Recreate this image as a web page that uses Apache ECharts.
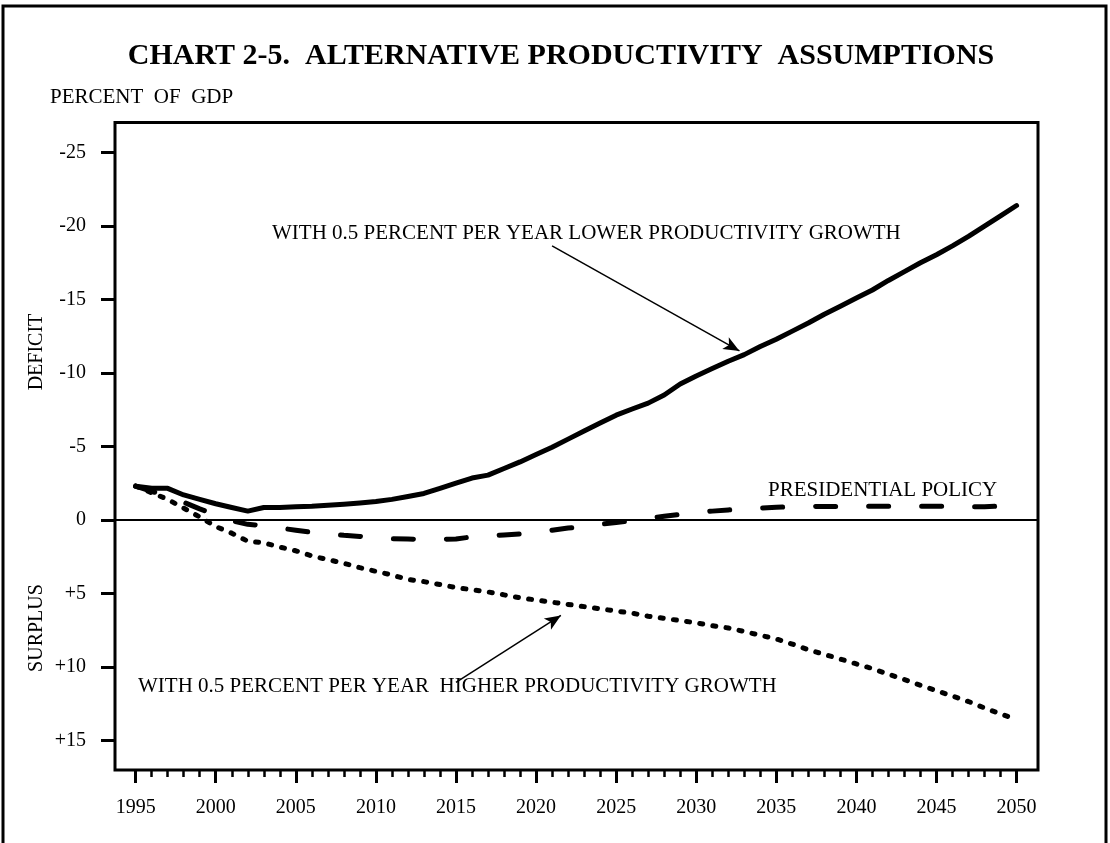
<!DOCTYPE html>
<html>
<head>
<meta charset="utf-8">
<script src="https://cdn.jsdelivr.net/npm/echarts@6/dist/echarts.min.js"></script>
<style>
html,body{margin:0;padding:0;background:#fff;}
#chart{width:1110px;height:843px;}
</style>
</head>
<body>
<div id="chart"></div>
<script>
// ---------- DATA ----------
const years = [1995,1996,1997,1998,1999,2000,2001,2002,2003,2004,2005,2006,2007,2008,2009,2010,
  2011,2012,2013,2014,2015,2016,2017,2018,2019,2020,2021,2022,2023,2024,2025,2026,2027,2028,2029,2030,
  2031,2032,2033,2034,2035,2036,2037,2038,2039,2040,2041,2042,2043,2044,2045,2046,2047,2048,2049,2050];

// Percent of GDP: negative = deficit (upward), positive = surplus (downward)
const lowerProductivity = [-2.3,-2.15,-2.15,-1.7,-1.4,-1.1,-0.85,-0.6,-0.85,-0.85,-0.9,-0.93,-1.0,-1.07,-1.15,-1.25,
  -1.4,-1.6,-1.8,-2.15,-2.5,-2.85,-3.05,-3.5,-3.95,-4.45,-4.95,-5.5,-6.05,-6.6,-7.13,-7.55,-7.95,-8.5,-9.25,-9.8,
  -10.3,-10.8,-11.25,-11.8,-12.3,-12.85,-13.4,-14.0,-14.55,-15.1,-15.65,-16.3,-16.9,-17.5,-18.05,-18.65,-19.3,-20.0,-20.7,-21.4];

const presidentialPolicy = [-2.3,-1.95,-1.6,-1.2,-0.75,-0.35,0.05,0.3,0.38,0.55,0.7,0.85,0.95,1.05,1.12,1.2,
  1.28,1.3,1.32,1.32,1.3,1.15,1.1,1.02,0.95,0.85,0.7,0.55,0.45,0.3,0.18,0.05,-0.1,-0.25,-0.38,-0.5,
  -0.6,-0.68,-0.75,-0.8,-0.86,-0.9,-0.9,-0.92,-0.92,-0.93,-0.93,-0.93,-0.93,-0.93,-0.93,-0.93,-0.9,-0.9,-0.95,-1.05];

const higherProductivity = [-2.3,-1.85,-1.4,-0.8,-0.2,0.45,0.9,1.45,1.55,1.85,2.1,2.45,2.7,2.95,3.25,3.5,
  3.75,4.05,4.2,4.4,4.6,4.75,4.9,5.1,5.3,5.45,5.6,5.75,5.9,6.05,6.2,6.35,6.55,6.7,6.85,7.0,
  7.2,7.35,7.6,7.85,8.1,8.45,8.84,9.15,9.47,9.8,10.12,10.5,10.87,11.25,11.62,11.99,12.36,12.8,13.2,13.6];

const xTickLabels = [1995,2000,2005,2010,2015,2020,2025,2030,2035,2040,2045,2050];
const yTickLabels = [-25,-20,-15,-10,-5,0,5,10,15];

// annotation arrows (in data units: [year, percent])
const arrowLower = [[2021.0, -18.65], [2032.7, -11.5]];
const arrowHigher = [[2015.0, 11.05], [2021.55, 6.5]];

const titleText = 'CHART 2-5.  ALTERNATIVE PRODUCTIVITY  ASSUMPTIONS';
const unitText = 'PERCENT  OF  GDP';
const deficitText = 'DEFICIT';
const surplusText = 'SURPLUS';
const lowerText = 'WITH 0.5 PERCENT PER YEAR LOWER PRODUCTIVITY GROWTH';
const presText = 'PRESIDENTIAL POLICY';
const higherText = 'WITH 0.5 PERCENT PER YEAR  HIGHER PRODUCTIVITY GROWTH';

// ---------- CHART ----------
const FONT = '"Liberation Serif", "Times New Roman", serif';
const pairs = (vals) => years.map((y, i) => [y, vals[i]]);

const chart = echarts.init(document.getElementById('chart'), null, {renderer: 'canvas'});

function txt(text, x, y, size, opts) {
  opts = opts || {};
  return {
    type: 'text', x: x, y: y, rotation: opts.rotation || 0, z: 100,
    style: {
      text: text,
      font: (opts.bold ? 'bold ' : '') + size + 'px ' + FONT,
      fill: '#000',
      textAlign: opts.align || 'left', align: opts.align || 'left',
      textVerticalAlign: 'middle', verticalAlign: 'middle'
    }
  };
}

const xCommon = {
  type: 'value', min: 1993.71, max: 2051.34, position: 'bottom', gridIndex: 0,
  axisLine: {show: false, onZero: false}, splitLine: {show: false}
};

const option = {
  animation: false,
  backgroundColor: '#fff',
  grid: {left: 115, top: 122.5, width: 923, height: 647.5, show: true,
    borderWidth: 3, borderColor: '#000', backgroundColor: 'transparent'},
  xAxis: [
    Object.assign({}, xCommon, {
      axisTick: {show: true, customValues: xTickLabels, length: 13, lineStyle: {color: '#000', width: 3}},
      axisLabel: {show: true, customValues: xTickLabels, margin: 28, fontSize: 20, fontFamily: FONT,
        color: '#000', formatter: v => String(v)}
    }),
    Object.assign({}, xCommon, {
      axisTick: {show: true, customValues: years, length: 7, lineStyle: {color: '#000', width: 2.5}},
      axisLabel: {show: false}
    })
  ],
  yAxis: {
    type: 'value', min: -27.05, max: 17.02, inverse: true,
    axisLine: {show: false, onZero: false}, splitLine: {show: false},
    axisTick: {show: true, customValues: yTickLabels, length: 14, lineStyle: {color: '#000', width: 3}},
    axisLabel: {show: true, customValues: yTickLabels, margin: 29, fontSize: 20, fontFamily: FONT,
      color: '#000', formatter: v => (v > 0 ? '+' + v : String(v))}
  },
  series: [
    {
      name: 'lower', type: 'line', xAxisIndex: 0, yAxisIndex: 0,
      data: pairs(lowerProductivity), showSymbol: false, symbol: 'none',
      lineStyle: {color: '#000', width: 5, cap: 'round', join: 'round'},
      markLine: {
        silent: true, animation: false, symbol: ['none', 'arrow'], symbolSize: [10, 16],
        label: {show: false},
        lineStyle: {color: '#000', width: 1.5, type: 'solid'},
        data: [
          [{coord: arrowLower[0]}, {coord: arrowLower[1]}],
          [{coord: arrowHigher[0]}, {coord: arrowHigher[1]}]
        ]
      }
    },
    {
      name: 'presidential', type: 'line', xAxisIndex: 0, yAxisIndex: 0,
      data: pairs(presidentialPolicy), showSymbol: false, symbol: 'none',
      lineStyle: {color: '#000', width: 5, type: [20, 33], cap: 'round', join: 'round'}
    },
    {
      name: 'higher', type: 'line', xAxisIndex: 0, yAxisIndex: 0,
      data: pairs(higherProductivity), showSymbol: false, symbol: 'none',
      lineStyle: {color: '#000', width: 5, type: [3, 10.3], cap: 'round', join: 'round'},
      markLine: {
        silent: true, animation: false, symbol: ['none', 'none'],
        label: {show: false},
        lineStyle: {color: '#000', width: 2, type: 'solid'},
        data: [{yAxis: 0}]
      }
    }
  ],
  graphic: [
    {type: 'rect', z: 100, shape: {x: 3, y: 6, width: 1103, height: 860},
      style: {fill: null, stroke: '#000', lineWidth: 3}},
    txt(titleText, 561, 56, 30, {bold: true, align: 'center'}),
    txt(unitText, 50, 97, 21),
    txt(deficitText, 37, 352, 20, {align: 'center', rotation: Math.PI / 2}),
    txt(surplusText, 37, 628, 20, {align: 'center', rotation: Math.PI / 2}),
    txt(lowerText, 272, 233, 21),
    txt(presText, 768, 490, 21),
    txt(higherText, 138, 686, 21)
  ]
};

chart.setOption(option);
</script>
</body>
</html>
